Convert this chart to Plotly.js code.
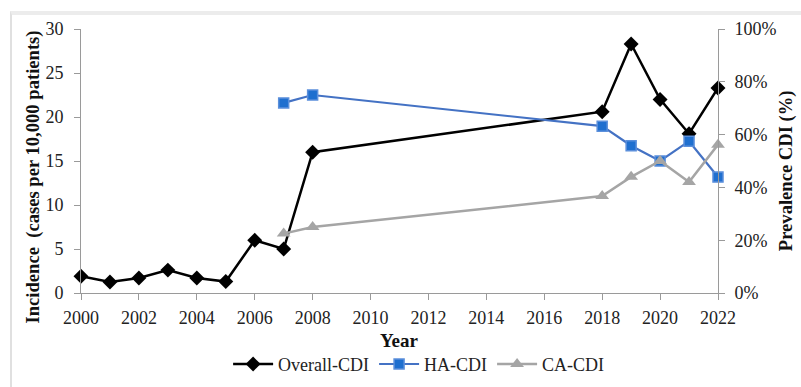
<!DOCTYPE html>
<html>
<head>
<meta charset="utf-8">
<script src="https://cdn.plot.ly/plotly-3.0.1.min.js"></script>
<style>
  html, body { margin: 0; padding: 0; background: #fff; }
  #frame { position: absolute; left: 10px; top: 11px; width: 791px; height: 376px;
           border-top: 4px solid #ececec; border-left: 2px solid #e0e0e0; box-sizing: border-box; }
  #chart { position: absolute; left: 0; top: 0; width: 801px; height: 387px; }
</style>
</head>
<body>
<div id="frame"></div>
<div id="chart"></div>
<script>
const overallYears = [2000, 2001, 2002, 2003, 2004, 2005, 2006, 2007, 2008, 2018, 2019, 2020, 2021, 2022];
const overallIncidence = [1.9, 1.25, 1.7, 2.6, 1.7, 1.3, 6.0, 5.0, 16.0, 20.6, 28.3, 22.0, 18.1, 23.3];
const subtypeYears = [2007, 2008, 2018, 2019, 2020, 2021, 2022];
const haPrevalence = [0.72, 0.75, 0.632, 0.558, 0.50, 0.575, 0.439];
const caPrevalence = [0.225, 0.25, 0.367, 0.44, 0.50, 0.42, 0.562];
const seriesNames = ['Overall-CDI', 'HA-CDI', 'CA-CDI'];
const leftTitle = 'Incidence  (cases per 10,000 patients)';
const rightTitle = 'Prevalence CDI (%)';
const xTitle = 'Year';

const serif = '"Liberation Serif", "Times New Roman", Times, serif';

const traces = [
  {
    x: overallYears, y: overallIncidence, name: seriesNames[0], type: 'scatter', mode: 'lines+markers',
    line: { color: '#000000', width: 2.5 },
    marker: { symbol: 'diamond', size: 11.5, color: '#000000' },
    cliponaxis: false, yaxis: 'y'
  },
  {
    x: subtypeYears, y: haPrevalence, name: seriesNames[1], type: 'scatter', mode: 'lines+markers',
    line: { color: '#4472C4', width: 2.2 },
    marker: { symbol: 'square', size: 10, color: '#1F6FCF', line: { color: '#5B8FDB', width: 1.5 } },
    cliponaxis: false, yaxis: 'y2'
  },
  {
    x: subtypeYears, y: caPrevalence, name: seriesNames[2], type: 'scatter', mode: 'lines+markers',
    line: { color: '#A5A5A5', width: 2.5 },
    marker: { symbol: 'triangle-up', size: 12, color: '#A5A5A5' },
    cliponaxis: false, yaxis: 'y2'
  }
];

function axisBase() {
  return {
    showgrid: false, zeroline: false, showline: true, linecolor: '#9a9a9a', linewidth: 1,
    ticks: 'outside', ticklen: 6, tickcolor: '#9a9a9a',
    tickfont: { family: serif, size: 18, color: '#222' }
  };
}

const titleFont = { family: serif, size: 18.6, color: '#111' };

const layout = {
  width: 801, height: 387,
  margin: { l: 81, r: 83, t: 29, b: 94, autoexpand: false },
  paper_bgcolor: 'rgba(0,0,0,0)', plot_bgcolor: 'rgba(0,0,0,0)',
  font: { family: serif, color: '#222' },
  showlegend: true,
  legend: {
    orientation: 'h', x: 0.53, xanchor: 'center', y: -0.27, yanchor: 'middle',
    font: { family: serif, size: 18, color: '#222' }, itemwidth: 40, traceorder: 'normal'
  },
  xaxis: Object.assign(axisBase(), {
    range: [2000, 2022], dtick: 2, tick0: 2000, ticklabelstandoff: 2
  }),
  yaxis: Object.assign(axisBase(), {
    range: [0, 30], dtick: 5, ticklabelstandoff: 7
  }),
  yaxis2: Object.assign(axisBase(), {
    overlaying: 'y', side: 'right', range: [0, 1], dtick: 0.2, tickformat: '.0%', ticklabelstandoff: 6
  }),
  annotations: [
    { text: '<b>' + leftTitle + '</b>', xref: 'paper', yref: 'paper', x: -0.0755, y: 0.441,
      xanchor: 'center', yanchor: 'middle', textangle: -90, showarrow: false, font: titleFont },
    { text: '<b>' + rightTitle + '</b>', xref: 'paper', yref: 'paper', x: 1.107, y: 0.462,
      xanchor: 'center', yanchor: 'middle', textangle: -90, showarrow: false, font: titleFont },
    { text: '<b>' + xTitle + '</b>', xref: 'paper', yref: 'paper', x: 0.5, y: -0.18,
      xanchor: 'center', yanchor: 'middle', showarrow: false, font: { family: serif, size: 19, color: '#111' } }
  ]
};

Plotly.newPlot('chart', traces, layout, { displayModeBar: false, staticPlot: true });
</script>
</body>
</html>
